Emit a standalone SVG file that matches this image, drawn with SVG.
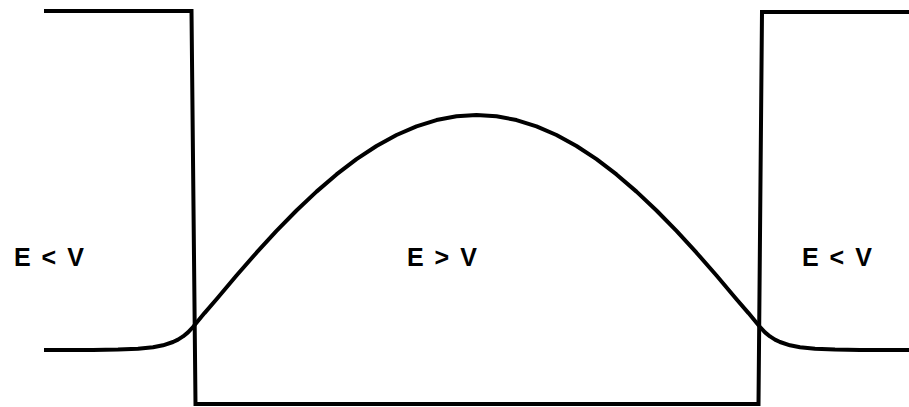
<svg xmlns="http://www.w3.org/2000/svg" width="909" height="407" viewBox="0 0 909 407">
<style>
.ln{fill:none;stroke:#000;stroke-width:4;stroke-linejoin:miter}
.wf{fill:none;stroke:#000;stroke-width:4;stroke-linejoin:round;stroke-linecap:butt}
.lbl{font-family:"Liberation Sans",Arial,sans-serif;font-weight:bold;font-size:25px;letter-spacing:2px;fill:#000}
</style>
<rect width="909" height="407" fill="#fff"/>
<g id="potential">
<polyline class="ln" points="44,11 191.5,11 195.5,404 758.5,404 762,12 909,12"/>
</g>
<g id="wavefunction">
<polyline class="wf" points="44,350 93,349.88 118,349.56 138,348.74 153,347.22 163,345.28 173,342 178,339.58 183,336.43 188,332.34 193,327 204.5,313.1 216.5,299.24 236.5,275.55 256.5,252.7 276.5,230.95 296.5,210.52 316.5,191.63 336.5,174.46 356.5,159.2 376.5,146 396.5,135.01 416.5,126.32 436.5,120.05 456.5,116.27 476.5,115 496.5,116.27 516.5,120.05 536.5,126.32 556.5,135.01 576.5,146 596.5,159.2 616.5,174.46 636.5,191.63 656.5,210.52 676.5,230.95 696.5,252.7 716.5,275.55 736.5,299.24 748.5,313.1 760,327 765,332.34 770,336.43 775,339.58 780,342 790,345.28 800,347.22 815,348.74 835,349.56 860,349.88 909,350"/>
</g>
<g id="labels">
<text class="lbl" x="14" y="266">E &lt; V</text>
<text class="lbl" x="407" y="266">E &gt; V</text>
<text class="lbl" x="802" y="266">E &lt; V</text>
</g>
</svg>
